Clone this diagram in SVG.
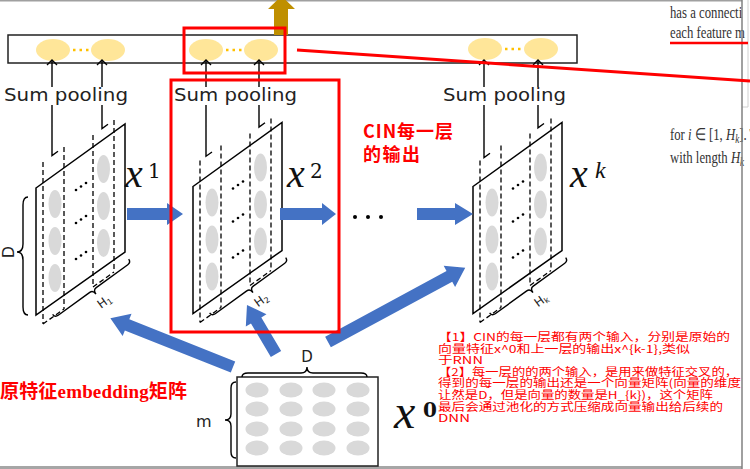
<svg xmlns="http://www.w3.org/2000/svg" width="750" height="469" viewBox="0 0 750 469">
<style>
.ln{stroke:#000;stroke-width:1.4;fill:none}
.dash{stroke:#000;stroke-width:1.3;fill:none;stroke-dasharray:5,3}
.gray{fill:#d9d9d9}
.yel{fill:#ffe699}
.odots{stroke:#ffc000;stroke-width:2.5;stroke-dasharray:2.5,4;fill:none}
.sp{font-family:"DejaVu Sans",sans-serif;font-size:17px;fill:#222}
.blue{fill:#4472c4}
.red{stroke:#ff0000;stroke-width:3;fill:none}
.math{font-family:"Liberation Serif",serif;font-style:italic;fill:#111}
.note{font-family:"Noto Sans CJK SC",sans-serif;font-size:11px;fill:#ff0000}
.paper{font-family:"Liberation Serif",serif;font-size:17px;fill:#333}
.lab{font-family:"DejaVu Sans",sans-serif;fill:#222}
</style>
<defs>
<g id="plane">
<polygon points="36,188 125,124 125,252 36,315" style="fill:#fff;stroke:#000;stroke-width:1.5"/>
<path class="dash" d="M43,162V324M64,147V309M93,135V287M114,120V272M43,324L64,309M93,287L114,272"/>
<g class="gray">
<ellipse cx="55" cy="204" rx="6.5" ry="14"/><ellipse cx="55" cy="241" rx="6.5" ry="14"/><ellipse cx="55" cy="278" rx="6.5" ry="14"/>
<ellipse cx="103.5" cy="169" rx="6.5" ry="14"/><ellipse cx="103.5" cy="206" rx="6.5" ry="14"/><ellipse cx="103.5" cy="243" rx="6.5" ry="14"/>
</g>
<g fill="#000">
<circle cx="76" cy="190" r="1.3"/><circle cx="81" cy="186.5" r="1.3"/><circle cx="86" cy="183" r="1.3"/>
<circle cx="76" cy="223" r="1.3"/><circle cx="81" cy="219.5" r="1.3"/><circle cx="86" cy="216" r="1.3"/>
<circle cx="76" cy="259" r="1.3"/><circle cx="81" cy="255.5" r="1.3"/><circle cx="86" cy="252" r="1.3"/>
</g>
<path class="ln" transform="translate(93,290) rotate(-36)" d="M-47,-4 Q-47,0 -43,0 L-4,0 Q0,0 0,5 Q0,0 4,0 L43,0 Q47,0 47,-4"/>
</g>
<path id="hd" d="M-5,5 L0,0 L5,5"/>
</defs>

<!-- frame -->
<g id="frame">
<line x1="0" y1="0.7" x2="742" y2="0.7" stroke="#a0a0a0" stroke-width="1.5"/>
<rect x="0" y="466" width="742" height="3" fill="#a6a6a6"/>
<path d="M748,0V107H742" stroke="#d0d0d0" stroke-width="1" fill="none"/>
</g>

<!-- paper text on the right -->
<g id="paper-text">
<text class="paper" transform="translate(670,18) scale(0.75,1)">has a connecti</text>
<text class="paper" transform="translate(670,38) scale(0.75,1)">each feature m</text>
<text class="paper" transform="translate(670,140) scale(0.75,1)">for <tspan font-style="italic">i</tspan> ∈ [1, <tspan font-style="italic">H</tspan><tspan font-style="italic" font-size="12" dy="3">k</tspan><tspan dy="-3">]. T</tspan></text>
<text class="paper" transform="translate(670,163) scale(0.75,1)">with length <tspan font-style="italic">H</tspan><tspan font-style="italic" font-size="12" dy="3">k</tspan></text>
</g>
<line x1="742" y1="0" x2="742" y2="469" stroke="#808080" stroke-width="1.5"/>

<!-- output bar -->
<g id="output-bar">
<rect x="8" y="35" width="569" height="28" fill="#fff" stroke="#222" stroke-width="1.5"/>
<g class="yel">
<ellipse cx="53" cy="50" rx="17" ry="11"/><ellipse cx="108" cy="50" rx="17" ry="11"/>
<ellipse cx="206" cy="50" rx="17" ry="11"/><ellipse cx="261" cy="50" rx="17" ry="11"/>
<ellipse cx="485" cy="49" rx="17" ry="11"/><ellipse cx="541" cy="49" rx="17" ry="11"/>
</g>
<path class="odots" d="M73,50H91M226,50H243M505,49H523"/>
</g>

<!-- CIN layers -->
<g id="cin-layer-1">
<use href="#plane"/>
<path class="ln" d="M28,197 Q23,197 23,205 L23,244 Q23,252 17,252 Q23,252 23,260 L23,307 Q23,315 28,315"/>
<text class="lab" font-size="16" transform="translate(14,252) rotate(-90)" text-anchor="middle">D</text>
<text class="lab" font-size="12" transform="translate(101,309) rotate(-36)">H<tspan font-size="8" dy="2">1</tspan></text>
<text class="math" x="125" y="187" font-size="40">x</text>
<text font-family="DejaVu Serif,serif" x="148" y="178" font-size="20" fill="#111">1</text>
</g>
<g id="cin-layer-2">
<use href="#plane" transform="translate(157,-1.5)"/>
<text class="lab" font-size="12" transform="translate(258,307.5) rotate(-36)">H<tspan font-size="8" dy="2">2</tspan></text>
<text class="math" x="287" y="187" font-size="40">x</text>
<text font-family="DejaVu Serif,serif" x="310" y="178" font-size="20" fill="#111">2</text>
</g>
<g id="cin-layer-k">
<use href="#plane" transform="translate(437,-1.5)"/>
<text class="lab" font-size="12" transform="translate(538,307.5) rotate(-36)">H<tspan font-size="8" dy="2">k</tspan></text>
<text class="math" x="570" y="187" font-size="40">x</text>
<text class="math" x="595" y="178" font-size="24">k</text>
</g>
<g id="ellipsis" fill="#000">
<circle cx="355" cy="217" r="2"/><circle cx="368" cy="217" r="2"/><circle cx="381" cy="217" r="2"/>
</g>

<!-- x0 matrix -->
<g id="x0-matrix">
<rect x="237" y="377" width="141" height="89" fill="#fff" stroke="#222" stroke-width="1.5"/>
<g class="gray">
<ellipse cx="257" cy="390" rx="11.5" ry="7.5"/><ellipse cx="291" cy="390" rx="11.5" ry="7.5"/><ellipse cx="324" cy="390" rx="11.5" ry="7.5"/><ellipse cx="358" cy="390" rx="11.5" ry="7.5"/>
<ellipse cx="257" cy="409" rx="11.5" ry="7.5"/><ellipse cx="291" cy="409" rx="11.5" ry="7.5"/><ellipse cx="324" cy="409" rx="11.5" ry="7.5"/><ellipse cx="358" cy="409" rx="11.5" ry="7.5"/>
<ellipse cx="257" cy="429" rx="11.5" ry="7.5"/><ellipse cx="291" cy="429" rx="11.5" ry="7.5"/><ellipse cx="324" cy="429" rx="11.5" ry="7.5"/><ellipse cx="358" cy="429" rx="11.5" ry="7.5"/>
<ellipse cx="257" cy="448" rx="11.5" ry="7.5"/><ellipse cx="291" cy="448" rx="11.5" ry="7.5"/><ellipse cx="324" cy="448" rx="11.5" ry="7.5"/><ellipse cx="358" cy="448" rx="11.5" ry="7.5"/>
</g>
<path class="ln" d="M242,377 Q242,373 248,373 L301,373 Q307,373 307,367 Q307,373 313,373 L361,373 Q367,373 367,377"/>
<text class="lab" font-size="15" x="307" y="362" text-anchor="middle">D</text>
<path class="ln" d="M236,382 Q231,382 231,388 L231,414 Q231,420 225,420 Q231,420 231,426 L231,452 Q231,458 236,458"/>
<text class="lab" font-size="16" x="196" y="427">m</text>
<text class="math" x="394" y="428" font-size="48">x</text>
<text font-family="DejaVu Serif,serif" font-weight="bold" x="423" y="417" font-size="20" fill="#111">0</text>
</g>

<!-- connectors -->
<g id="connectors">
<g class="blue">
<path d="M127,208H167V203L183,214L167,225V220H127Z"/>
<path d="M280,208H322V203L336,214L322,225V220H280Z"/>
<path d="M417,208H455V203L473,214L455,225V220H417Z"/>
<path transform="translate(233,367) rotate(-158.3)" d="M0,-6L114,-6L114,-12L132,0L114,12L114,6L0,6Z"/>
<path transform="translate(276,354) rotate(-120.6)" d="M0,-6L39,-6L39,-12L57,0L39,12L39,6L0,6Z"/>
<path transform="translate(328,342) rotate(-28.4)" d="M0,-6L138,-6L138,-12L156,0L138,12L138,6L0,6Z"/>
</g>
<path class="ln" d="M52,61V155.6L58,151.3M102,61V128.6L108,124.3M206,61V156.2L212,152M259,61V127.1L265,122.8M484,61V157.6L490,153.3M538,61V127.8L544,123.5"/>
<g class="ln">
<use href="#hd" x="52" y="60"/><use href="#hd" x="102" y="60"/>
<use href="#hd" x="206" y="60"/><use href="#hd" x="259" y="60"/>
<use href="#hd" x="484" y="60"/><use href="#hd" x="538" y="60"/>
</g>
<g fill="#fff">
<rect x="3" y="87" width="127" height="18"/><rect x="173" y="87" width="126" height="18"/><rect x="442" y="87" width="126" height="18"/>
</g>
<text class="sp" x="4" y="101" textLength="124" lengthAdjust="spacingAndGlyphs">Sum pooling</text>
<text class="sp" x="174" y="101" textLength="123" lengthAdjust="spacingAndGlyphs">Sum pooling</text>
<text class="sp" x="443" y="101" textLength="123" lengthAdjust="spacingAndGlyphs">Sum pooling</text>
<polygon points="274,35 288,35 288,9 295,9 281.5,-4 268,9 274,9" fill="#bf8f00"/>
</g>

<!-- annotations -->
<g id="annotations">
<rect class="red" x="184" y="28" width="101" height="45"/>
<rect class="red" x="171" y="80" width="168" height="252"/>
<line class="red" x1="297" y1="50" x2="750" y2="81"/>
<line x1="670" y1="43" x2="748" y2="43" stroke="#ff0000" stroke-width="2.5"/>
<g font-family="Noto Sans CJK SC,sans-serif" font-weight="bold" fill="#ff0000">
<text x="363" y="138" font-size="18" textLength="90">CIN每一层</text>
<text x="363" y="161" font-size="18" textLength="57">的输出</text>
</g>
<text x="0" y="398" font-family="Liberation Serif,Noto Sans CJK SC,serif" font-weight="bold" font-size="19" fill="#ff0000" textLength="187">原特征embedding矩阵</text>
<g class="note">
<text x="438" y="341" textLength="292" lengthAdjust="spacingAndGlyphs">【1】CIN的每一层都有两个输入，分别是原始的</text>
<text x="438" y="352.6" textLength="252" lengthAdjust="spacingAndGlyphs">向量特征x^0和上一层的输出x^{k-1},类似</text>
<text x="438" y="364.2" textLength="45" lengthAdjust="spacingAndGlyphs">于RNN</text>
<text x="438" y="375.8" textLength="300" lengthAdjust="spacingAndGlyphs">【2】每一层的的两个输入，是用来做特征交叉的，</text>
<text x="438" y="387.4" textLength="303" lengthAdjust="spacingAndGlyphs">得到的每一层的输出还是一个向量矩阵(向量的维度</text>
<text x="438" y="399" textLength="275" lengthAdjust="spacingAndGlyphs">让然是D，但是向量的数量是H_{k})，这个矩阵</text>
<text x="438" y="410.6" textLength="285" lengthAdjust="spacingAndGlyphs">最后会通过池化的方式压缩成向量输出给后续的</text>
<text x="438" y="422.2" textLength="32" lengthAdjust="spacingAndGlyphs">DNN</text>
</g>
</g>
</svg>
